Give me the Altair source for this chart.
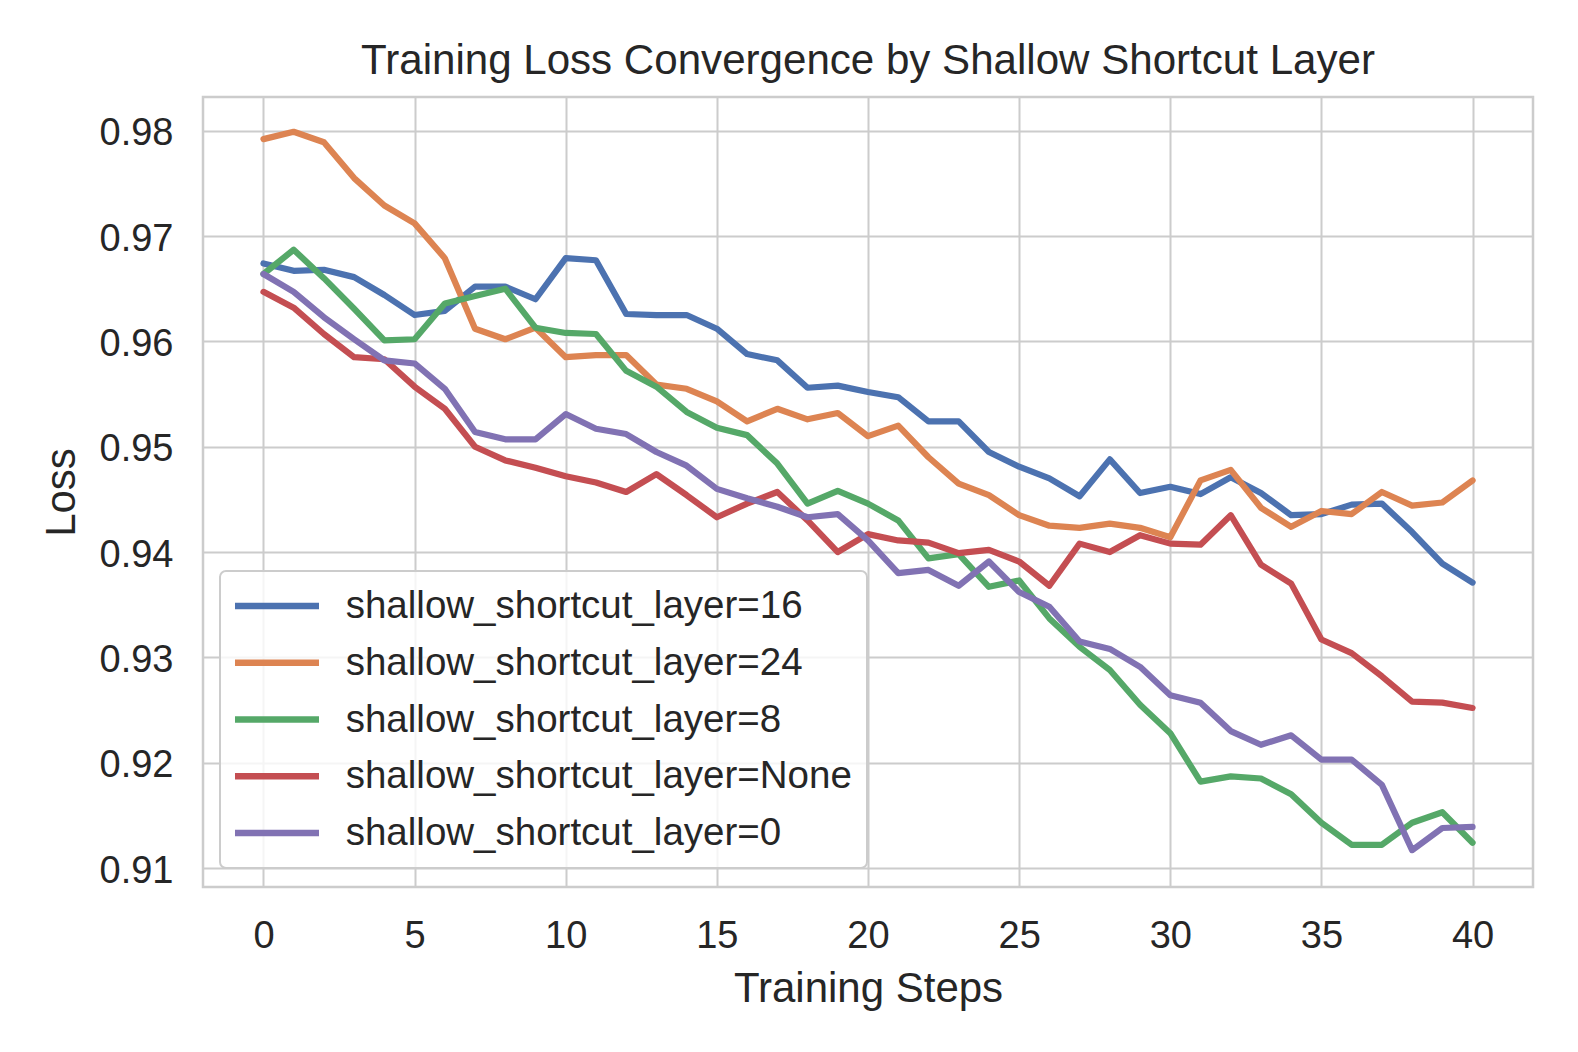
import altair as alt
import pandas as pd

steps = list(range(41))

series_names = [
    "shallow_shortcut_layer=16",
    "shallow_shortcut_layer=24",
    "shallow_shortcut_layer=8",
    "shallow_shortcut_layer=None",
    "shallow_shortcut_layer=0",
]
series_colors = ["#4C72B0", "#DD8452", "#55A868", "#C44E52", "#8172B3"]

loss_16 = [0.9674, 0.9667, 0.9668, 0.9661, 0.9644, 0.9625, 0.9629, 0.9652, 0.9652, 0.9640,
           0.9679, 0.9677, 0.9626, 0.9625, 0.9625, 0.9612, 0.9588, 0.9582, 0.9556, 0.9558,
           0.9552, 0.9547, 0.9524, 0.9524, 0.9495, 0.9481, 0.9470, 0.9453, 0.9488, 0.9456,
           0.9462, 0.9455, 0.9471, 0.9456, 0.9435, 0.9436, 0.9445, 0.9446, 0.9419, 0.9389,
           0.9371]
loss_24 = [0.9792, 0.9799, 0.9789, 0.9755, 0.9729, 0.9712, 0.9679, 0.9612, 0.9602, 0.9613,
           0.9585, 0.9587, 0.9587, 0.9559, 0.9555, 0.9543, 0.9524, 0.9536, 0.9526, 0.9532,
           0.9510, 0.9520, 0.9490, 0.9465, 0.9454, 0.9435, 0.9425, 0.9423, 0.9427, 0.9423,
           0.9414, 0.9468, 0.9478, 0.9442, 0.9424, 0.9439, 0.9436, 0.9457, 0.9444, 0.9447,
           0.9468]
loss_8 = [0.9664, 0.9687, 0.9660, 0.9631, 0.9601, 0.9602, 0.9636, 0.9643, 0.9650, 0.9613,
          0.9608, 0.9607, 0.9572, 0.9557, 0.9533, 0.9518, 0.9511, 0.9484, 0.9446, 0.9458,
          0.9446, 0.9430, 0.9394, 0.9398, 0.9367, 0.9373, 0.9337, 0.9310, 0.9288, 0.9255,
          0.9228, 0.9182, 0.9187, 0.9185, 0.9170, 0.9143, 0.9122, 0.9122, 0.9143, 0.9153,
          0.9124]
loss_none = [0.9647, 0.9632, 0.9607, 0.9585, 0.9583, 0.9557, 0.9536, 0.9500, 0.9487, 0.9480,
             0.9472, 0.9466, 0.9457, 0.9474, 0.9454, 0.9433, 0.9446, 0.9457, 0.9430, 0.9400,
             0.9417, 0.9411, 0.9409, 0.9399, 0.9402, 0.9391, 0.9368, 0.9408, 0.9400, 0.9416,
             0.9408, 0.9407, 0.9435, 0.9388, 0.9370, 0.9317, 0.9304, 0.9282, 0.9258, 0.9257,
             0.9252]
loss_0 = [0.9664, 0.9647, 0.9623, 0.9602, 0.9582, 0.9579, 0.9555, 0.9514, 0.9507, 0.9507,
          0.9531, 0.9517, 0.9512, 0.9495, 0.9482, 0.9460, 0.9451, 0.9443, 0.9433, 0.9436,
          0.9411, 0.9380, 0.9383, 0.9368, 0.9391, 0.9362, 0.9348, 0.9315, 0.9308, 0.9291,
          0.9264, 0.9257, 0.9230, 0.9217, 0.9226, 0.9203, 0.9203, 0.9179, 0.9117, 0.9138,
          0.9139]

x_ticks = [0, 5, 10, 15, 20, 25, 30, 35, 40]
y_ticks = [0.91, 0.92, 0.93, 0.94, 0.95, 0.96, 0.97, 0.98]

rows = []
for name, vals in zip(series_names, [loss_16, loss_24, loss_8, loss_none, loss_0]):
    for s, v in zip(steps, vals):
        rows.append({"step": s, "loss": v, "series": name})
df = pd.DataFrame(rows)

FONT = "Liberation Sans"
TXT = "#262626"

chart = (
    alt.Chart(df)
    .mark_line(strokeWidth=6.2, strokeJoin="round", strokeCap="round")
    .encode(
        x=alt.X(
            "step:Q",
            scale=alt.Scale(domain=[-2, 42], nice=False, zero=False),
            axis=alt.Axis(values=x_ticks, format="d", title="Training Steps",
                          labelPadding=30, titleX=665, titleY=114,
                          titleBaseline="alphabetic", titleAlign="center"),
        ),
        y=alt.Y(
            "loss:Q",
            scale=alt.Scale(domain=[0.9082, 0.9832], nice=False, zero=False),
            axis=alt.Axis(values=y_ticks, format=".2f", title="Loss",
                          labelPadding=30, labelOffset=3,
                          titleX=-129, titleY=395,
                          titleBaseline="alphabetic", titleAlign="center", titleAngle=270),
        ),
        color=alt.Color(
            "series:N",
            sort=None,
            scale=alt.Scale(domain=series_names, range=series_colors),
            legend=alt.Legend(
                title=None,
                orient="none",
                legendX=17,
                legendY=474,
                symbolType="M-2.5455,0H2.5455",
                symbolSize=1089,
                symbolStrokeWidth=6.5,
                symbolOffset=22,
                labelOffset=48.7,
                labelFontSize=38.5,
                labelFont=FONT,
                labelColor=TXT,
                labelLimit=2000,
                rowPadding=16.75,
                padding=15,
                fillColor="rgba(255,255,255,0.8)",
                strokeColor="#cccccc",
                cornerRadius=6,
            ),
        ),
    )
    .properties(
        width=1330,
        height=790,
        padding={"left": 195, "top": 89, "right": 37, "bottom": 150},
        autosize=alt.AutoSizeParams(type="none"),
        title=alt.TitleParams(
            "Training Loss Convergence by Shallow Shortcut Layer",
            fontSize=42.1, font=FONT, fontWeight="normal", color=TXT,
            anchor="middle", baseline="alphabetic", offset=-19,
        ),
    )
    .configure_view(stroke="#cccccc", strokeWidth=2.5)
    .configure_axis(
        grid=True,
        gridColor="#cccccc",
        gridWidth=2,
        ticks=False,
        domain=False,
        labelFont=FONT,
        labelFontSize=38,
        labelColor=TXT,
        labelFlush=False,
        titleFont=FONT,
        titleFontSize=42,
        titleFontWeight="normal",
        titleColor=TXT,
    )
    .configure_legend(strokeWidth=2)
)

chart.save("out.html", embed_options={"renderer": "svg", "actions": False})
